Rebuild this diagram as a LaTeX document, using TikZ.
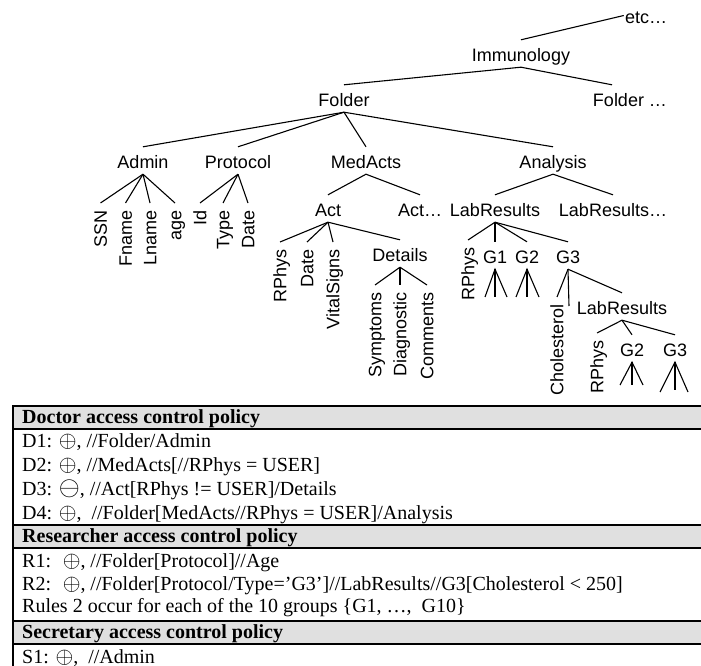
\documentclass[tikz,border=0pt]{standalone}
\usepackage{fontspec}
\setmainfont{Liberation Serif}
\newfontfamily\treefont{Liberation Sans}
\usepackage{tikz}
\definecolor{bandgray}{gray}{0.88}
\newcommand{\grant}{\scalebox{1.1}{$\oplus$}}
\newcommand{\deny}{\scalebox{1.3}{$\ominus$}}
\tikzstyle{treenode} = [font=\treefont\fontsize{18}{20}\selectfont, anchor=base, text height=19pt, text depth=3pt, inner xsep=1pt, inner ysep=2.5pt]
\tikzstyle{leafnode} = [font=\treefont\fontsize{18}{20}\selectfont, rotate=90, anchor=east, text height=12.9pt, text depth=0pt, inner xsep=7.5pt, inner ysep=0pt]
\tikzstyle{branch} = [line width=1.1pt]
\tikzstyle{rowtext} = [font=\fontsize{20}{22}\selectfont, anchor=base west, inner sep=0pt]
\tikzstyle{headtext} = [font=\bfseries\fontsize{20}{22}\selectfont, anchor=base west, inner sep=0pt]
\tikzstyle{tablerule} = [line width=2pt]

\begin{document}
\begin{tikzpicture}[x=1pt, y=-1pt]
    \useasboundingbox (0,0) rectangle (701,666);

    % upper levels
    \node (etc) [treenode] at (646,23.5) {etc…};
    \node (imm) [treenode] at (521,61.5) {Immunology};
    \node (folder) [treenode] at (344,106.5) {Folder};
    \node (folderx) [treenode] at (630,106.5) {Folder …};
    \node (admin) [treenode] at (143,168.5) {Admin};
    \node (protocol) [treenode] at (238,168.5) {Protocol};
    \node (medacts) [treenode] at (366,168.5) {MedActs};
    \node (analysis) [treenode] at (553,168.5) {Analysis};
    \node (act) [treenode] at (328,216.5) {Act};
    \node (actx) [treenode] at (420,216.5) {Act…};
    \node (labres) [treenode] at (495,216.5) {LabResults};
    \node (labresx) [treenode] at (613,216.5) {LabResults…};
    \node (details) [treenode] at (400,261.5) {Details};
    \node (ga) [treenode] at (495,263.5) {G1};
    \node (gb) [treenode] at (527,263.5) {G2};
    \node (gc) [treenode] at (568,263.5) {G3};
    \node (labresb) [treenode] at (622,314.5) {LabResults};
    \node (gbb) [treenode] at (632,356.5) {G2};
    \node (gcb) [treenode] at (675,356.5) {G3};

    % leaves
    \node (ssn) [leafnode] at (100.5,203) {SSN};
    \node (fname) [leafnode] at (125.5,203) {Fname};
    \node (lname) [leafnode] at (150,203) {Lname};
    \node (age) [leafnode] at (175,203) {age};
    \node (id) [leafnode] at (200,203) {Id};
    \node (type) [leafnode] at (223,203) {Type};
    \node (date) [leafnode] at (248,203) {Date};
    \node (rphys) [leafnode] at (280,242) {RPhys};
    \node (actdate) [leafnode] at (307,242) {Date};
    \node (vital) [leafnode] at (333,242) {VitalSigns};
    \node (symptoms) [leafnode] at (375,285) {Symptoms};
    \node (diagnostic) [leafnode] at (400,285) {Diagnostic};
    \node (comments) [leafnode] at (427,285) {Comments};
    \node (rphysb) [leafnode] at (468,240) {RPhys};
    \node (chol) [leafnode] at (557,297) {Cholesterol};
    \node (rphysc) [leafnode] at (597,333) {RPhys};

    \coordinate (gaa) at (485,297);
    \coordinate (gab) at (495,297);
    \coordinate (gac) at (507,297);
    \coordinate (gba) at (516,297);
    \coordinate (gbm) at (527,297);
    \coordinate (gbc) at (539,297);
    \coordinate (gcm) at (569,306);
    \coordinate (gbba) at (620,385);
    \coordinate (gbbm) at (632,385);
    \coordinate (gbbc) at (643,385);
    \coordinate (gcba) at (660,392);
    \coordinate (gcbm) at (675,390);
    \coordinate (gcbc) at (688,392);

    \draw [branch] (imm.north) -- (etc.west);
    \draw [branch] (imm.south) -- (folder.north);
    \draw [branch] (imm.south) -- ([xshift=-18pt]folderx.north);
    \draw [branch] (folder.south) -- (admin.north);
    \draw [branch] (folder.south) -- (protocol.north);
    \draw [branch] (folder.south) -- (medacts.north);
    \draw [branch] (folder.south) -- (analysis.north);
    \draw [branch] (medacts.south) -- (act.north);
    \draw [branch] (medacts.south) -- (actx.north);
    \draw [branch] (analysis.south) -- (labres.north);
    \draw [branch] (analysis.south) -- (labresx.north);

    \draw [branch] (admin.south) -- (ssn.east);
    \draw [branch] (admin.south) -- (fname.east);
    \draw [branch] (admin.south) -- (lname.east);
    \draw [branch] (admin.south) -- (age.east);
    \draw [branch] (protocol.south) -- (id.east);
    \draw [branch] (protocol.south) -- (type.east);
    \draw [branch] (protocol.south) -- (date.east);

    \draw [branch] (act.south) -- (rphys.east);
    \draw [branch] (act.south) -- (actdate.east);
    \draw [branch] (act.south) -- (vital.east);
    \draw [branch] (act.south) -- (details.north);
    \draw [branch] (details.south) -- (symptoms.east);
    \draw [branch] (details.south) -- (diagnostic.east);
    \draw [branch] (details.south) -- (comments.east);

    \draw [branch] (labres.south) -- (rphysb.east);
    \draw [branch] (labres.south) -- (ga.north);
    \draw [branch] (labres.south) -- (gb.north);
    \draw [branch] (labres.south) -- (gc.north);
    \draw [branch] (gaa) -- (ga.south) -- (gac);
    \draw [branch] (ga.south) -- (gab);
    \draw [branch] (gba) -- (gb.south) -- (gbc);
    \draw [branch] (gb.south) -- (gbm);
    \draw [branch] (gc.south) -- (chol.east);
    \draw [branch] (gc.south) -- (gcm);
    \draw [branch] (gc.south) -- (labresb.north);
    \draw [branch] (labresb.south) -- (rphysc.east);
    \draw [branch] (labresb.south) -- (gbb.north);
    \draw [branch] (labresb.south) -- (gcb.north);
    \draw [branch] (gbba) -- (gbb.south) -- (gbbc);
    \draw [branch] (gbb.south) -- (gbbm);
    \draw [branch] (gcba) -- (gcb.south) -- (gcbc);
    \draw [branch] (gcb.south) -- (gcbm);

    % policy table
    \fill [bandgray] (13,406) rectangle (701,429);
    \fill [bandgray] (13,525) rectangle (701,548);
    \fill [bandgray] (13,621) rectangle (701,644);
    \draw [tablerule] (13,406) -- (701,406);
    \draw [tablerule] (13,429) -- (701,429);
    \draw [tablerule] (13,525) -- (701,525);
    \draw [tablerule] (13,548) -- (701,548);
    \draw [tablerule] (13,621) -- (701,621);
    \draw [tablerule] (13,644) -- (701,644);
    \draw [tablerule] (13,405) -- (13,666);

    \node (dochead) [headtext] at (22,423) {Doctor access control policy};
    \node (dra) [rowtext] at (22,447) {D1: \grant, //Folder/Admin};
    \node (drb) [rowtext] at (22,471) {D2: \grant, //MedActs[//RPhys = USER]};
    \node (drc) [rowtext] at (22,495) {D3: \deny, //Act[RPhys != USER]/Details};
    \node (drd) [rowtext] at (22,519) {D4: \grant, \ //Folder[MedActs//RPhys = USER]/Analysis};
    \node (reshead) [headtext] at (22,542.5) {Researcher access control policy};
    \node (rra) [rowtext] at (22,567) {R1: \ \grant, //Folder[Protocol]//Age};
    \node (rrb) [rowtext] at (22,590) {R2: \ \grant, //Folder[Protocol/Type='G3']//LabResults//G3[Cholesterol < 250]};
    \node (rrc) [rowtext] at (22,612) {Rules 2 occur for each of the 10 groups \{G1, …, \ G10\}};
    \node (sechead) [headtext] at (22,638.5) {Secretary access control policy};
    \node (sra) [rowtext] at (22,663) {S1: \grant, \ //Admin};
\end{tikzpicture}
\end{document}
